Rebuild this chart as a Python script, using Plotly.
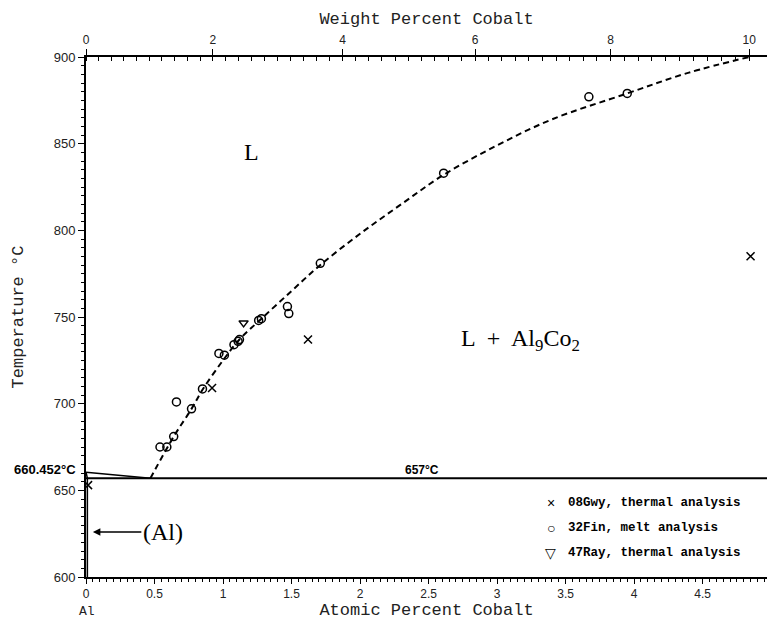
import numpy as np
import plotly.graph_objects as go

# ---- data (atomic percent Co, temperature in °C) ----
fin_x = [0.54, 0.59, 0.64, 0.66, 0.77, 0.85, 0.97, 1.01, 1.08, 1.11, 1.12,
         1.26, 1.28, 1.47, 1.48, 1.71, 2.61, 3.67, 3.95]
fin_t = [675, 675, 681, 701, 697, 708.5, 729, 728, 734, 736, 737,
         748, 749, 756, 752, 781, 833, 877, 879]
gwy_x = [0.015, 0.92, 1.62, 4.85]
gwy_t = [653, 709, 737, 785]
ray_x = [1.15]
ray_t = [746.6]

liq_x = [0.47, 0.64, 0.77, 0.85, 1.0, 1.12, 1.28, 1.5, 1.71, 2.0, 2.3, 2.61,
         3.0, 3.4, 3.95, 4.4, 4.84]
liq_t = [657, 681, 697, 708, 725, 737, 749, 765, 780, 798, 815, 832,
         849, 864, 879, 891, 900]

al_melt = 660.452
eutectic_t = 657
eutectic_x = 0.47

wt_major = [0, 2, 4, 6, 8, 10]
wt_minor = [round(0.2 * i, 1) for i in range(51)]
at_major = [0, 0.5, 1, 1.5, 2, 2.5, 3, 3.5, 4, 4.5]
at_major_text = ["0", "0.5", "1", "1.5", "2", "2.5", "3", "3.5", "4", "4.5"]

legend_symbols = ["×", "○", "▽"]
legend_labels = ["08Gwy, thermal analysis", "32Fin, melt analysis",
                 "47Ray, thermal analysis"]

M_AL, M_CO = 26.9815, 58.9332


def wt_to_at(w):
    nco = w / M_CO
    nal = (100 - w) / M_AL
    return 100 * nco / (nco + nal)


XMAX = 4.97
mono = "Liberation Mono"
serif = "Liberation Serif"
sans = "Liberation Sans"

fig = go.Figure()

# phase boundary lines
fig.add_trace(go.Scatter(x=[0, XMAX], y=[eutectic_t, eutectic_t], mode="lines",
                         line=dict(color="black", width=2), hoverinfo="skip"))
fig.add_trace(go.Scatter(x=[0, eutectic_x], y=[al_melt, eutectic_t], mode="lines",
                         line=dict(color="black", width=1.5), hoverinfo="skip"))
fig.add_trace(go.Scatter(x=[0, 0.01, 0.01], y=[al_melt, eutectic_t, 600], mode="lines",
                         line=dict(color="black", width=1.5), hoverinfo="skip"))
fig.add_trace(go.Scatter(x=liq_x, y=liq_t, mode="lines", line_shape="spline",
                         line=dict(color="black", width=2, dash="6px,4px"),
                         hoverinfo="skip"))

# experimental points
fig.add_trace(go.Scatter(x=fin_x, y=fin_t, mode="markers", name=legend_labels[1],
                         marker=dict(symbol="circle-open", size=8, color="black",
                                     line=dict(width=1.5))))
fig.add_trace(go.Scatter(x=gwy_x, y=gwy_t, mode="markers", name=legend_labels[0],
                         marker=dict(symbol="x-thin-open", size=8, color="black",
                                     line=dict(width=1.5))))
fig.add_trace(go.Scatter(x=ray_x, y=ray_t, mode="markers", name=legend_labels[2],
                         marker=dict(symbol="triangle-down-open", size=8, color="black",
                                     line=dict(width=1.5))))
# dummy trace for top axis
fig.add_trace(go.Scatter(x=[0, XMAX], y=[600, 600], xaxis="x2", mode="lines",
                         line=dict(width=0), hoverinfo="skip", showlegend=False))

axis_line = dict(showline=True, linecolor="black", linewidth=2, showgrid=False,
                 zeroline=False, automargin=False)

fig.update_layout(
    width=767, height=620,
    margin=dict(l=86, r=0, t=57, b=43),
    plot_bgcolor="white", paper_bgcolor="white",
    showlegend=False,
    xaxis=dict(range=[0, XMAX], tickvals=at_major, ticktext=at_major_text,
               ticks="outside", ticklen=5, tickwidth=1, tickcolor="black",
               minor=dict(dtick=0.05, tick0=0, ticks="outside", ticklen=3,
                          tickcolor="black", tickwidth=1),
               tickfont=dict(family=sans, size=12, color="#222"),
               title=dict(text="Atomic Percent Cobalt",
                          font=dict(family=mono, size=17, color="#222"),
                          standoff=1),
               **axis_line),
    xaxis2=dict(range=[0, XMAX], overlaying="x", side="top", anchor="y",
                tickvals=[wt_to_at(w) for w in wt_major],
                ticktext=[str(w) for w in wt_major],
                ticks="outside", ticklen=6, tickwidth=1, tickcolor="black",
                minor=dict(tickvals=[wt_to_at(w) for w in wt_minor], ticks="inside",
                           ticklen=4, tickcolor="black", tickwidth=1),
                tickfont=dict(family=sans, size=12, color="#222"),
                title=dict(text="Weight Percent Cobalt",
                           font=dict(family=mono, size=17, color="#222"),
                           standoff=4),
                **axis_line),
    yaxis=dict(range=[600, 900], dtick=50, tick0=600,
               ticks="outside", ticklen=6, tickwidth=1, tickcolor="black",
               minor=dict(dtick=5, ticks="outside", ticklen=3, tickcolor="black",
                          tickwidth=1),
               tickfont=dict(family=sans, size=13, color="#222"),
               title=dict(text="Temperature °C",
                          font=dict(family=mono, size=17, color="#222"),
                          standoff=26),
               **axis_line),
)

ann = []
ann.append(dict(x=1.21, y=845, xref="x", yref="y", text="L", showarrow=False,
                font=dict(family=serif, size=24, color="black")))
ann.append(dict(x=3.17, y=737, xref="x", yref="y",
                text="L  +  Al<sub>9</sub>Co<sub>2</sub>", showarrow=False,
                font=dict(family=serif, size=24, color="black")))
ann.append(dict(x=2.45, y=eutectic_t, xref="x", yref="y", text="<b>657°C</b>",
                showarrow=False, yshift=8,
                font=dict(family=sans, size=12, color="black")))
ann.append(dict(x=0, y=al_melt, xref="paper", yref="y", text="<b>660.452°C</b>",
                showarrow=False, xanchor="right", xshift=-8, yshift=3,
                font=dict(family=sans, size=13, color="black")))
ann.append(dict(x=0.05, y=626, xref="x", yref="y", text="(Al)", showarrow=True,
                arrowhead=2, arrowsize=1, arrowwidth=1.5, arrowcolor="black",
                ax=70, ay=0, font=dict(family=serif, size=24, color="black")))
ann.append(dict(x=0.01, y=0, xref="x", yref="paper", text="Al", showarrow=False,
                yanchor="middle", yshift=-34,
                font=dict(family=mono, size=13, color="#222")))

legend_t = [642.7, 628.3, 613.8]
for sym, label, ty in zip(legend_symbols, legend_labels, legend_t):
    ann.append(dict(x=3.39, y=ty, xref="x", yref="y", text=sym, showarrow=False,
                    font=dict(family=sans, size=14, color="black")))
    ann.append(dict(x=3.50, y=ty, xref="x", yref="y", xanchor="left",
                    text="<b>" + label + "</b>", showarrow=False,
                    font=dict(family=mono, size=12.5, color="black")))

fig.update_layout(annotations=ann)

fig.write_html(
    "out.html",
    config={"displayModeBar": False},
    post_script="document.body.style.margin='0';"
                "document.body.style.overflow='hidden';",
)
